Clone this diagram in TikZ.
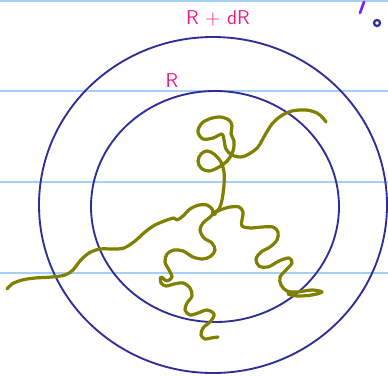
\documentclass[tikz,border=0pt]{standalone}
\usepackage{fontspec}
\definecolor{ruleblue}{HTML}{A6CFF7}
\definecolor{ringblue}{HTML}{2E2E96}
\definecolor{polyolive}{HTML}{808000}
\definecolor{labpink}{HTML}{EE1C7E}
\definecolor{penviolet}{HTML}{8A1CF0}
\begin{document}
\begin{tikzpicture}[x=0.75pt,y=-0.75pt,
  ruled/.style={draw=ruleblue,line width=1.5pt},
  ringline/.style={draw=ringblue,line width=1.4pt},
  polymer/.style={draw=polyolive,line width=2.4pt,line cap=round,line join=round},
  handlabel/.style={text=labpink,font=\sffamily\fontsize{15}{15}\selectfont,inner sep=0pt}]
\useasboundingbox (0,0) rectangle (388,375);
% ruled paper lines
\draw[ruled] (0,1) -- (388,1);
\draw[ruled] (0,91) -- (388,91);
\draw[ruled] (0,182) -- (388,182);
\draw[ruled] (0,273) -- (388,273);
% shells
\draw[ringline] (213,205) ellipse [x radius=174, y radius=168];
\draw[ringline] (215,206.5) ellipse [x radius=124, y radius=115.5];
% labels
\node[handlabel] (outerlab) at (218,18) {R + dR};
\node[handlabel] (innerlab) at (172,81) {R};
% pen marks top right
\coordinate (penA) at (360,13);
\coordinate (penB) at (364,2);
\draw[draw=penviolet,line width=2pt,line cap=round] (penA) -- (penB);
\draw[draw=ringblue,line width=1.7pt] (377,23) circle [radius=3];
% polymer chain
\coordinate (centre) at (214,213);
% tail to the left
\draw[polymer] plot[smooth, tension=0.55] coordinates {
 (7,289) (12,284) (22,280) (35,278) (52,277) (65,275) (73,270) (80,261) (89,253)
 (100,249) (113,249) (124,248) (135,241) (145,232) (155,225) (167,220) (174,218)
 (177,220) (183,216) (190,209) (199,205) (207,205) (212,209) (214,213)};
% loops upward and arc to the right
\draw[polymer] plot[smooth, tension=0.55] coordinates {
 (214,213) (219,209) (222,200) (224,185) (224,172) (221,162) (214,154) (207,151)
 (201,154) (198,161) (201,168) (209,171) (219,167) (228,160) (233,151) (234,141)
 (231,134) (232,126) (229,120) (220,117) (209,119) (201,124) (198,132) (203,139)
 (213,138) (222,134) (224,140) (226,149) (232,155) (241,157) (249,154) (258,147)
 (265,135) (272,124) (281,116) (292,111) (306,110) (317,113) (323,118) (326,122)};
% squiggle to the lower right
\draw[polymer] plot[smooth, tension=0.55] coordinates {
 (214,213) (220,210) (230,207) (239,207) (243,212) (242,220) (242,226) (250,228)
 (262,227) (273,227) (278,232) (277,240) (270,247) (261,252) (256,259) (259,266)
 (268,267) (279,261) (289,258) (292,263) (286,270) (280,277) (281,285) (287,291)
 (297,292) (312,290) (322,292) (312,295) (297,296) (288,294)};
% squiggle downward
\draw[polymer] plot[smooth, tension=0.55] coordinates {
 (214,213) (209,218) (203,223) (200,230) (204,238) (212,243) (215,250) (211,256)
 (203,259) (193,257) (183,251) (174,250) (167,254) (165,262) (169,270) (172,277)
 (167,281) (161,277) (161,283) (166,286) (174,284) (183,283) (190,288) (192,296)
 (187,303) (185,310) (190,315) (198,313) (207,310) (214,314) (211,321) (203,328)
 (201,335) (205,339) (211,338) (218,337)};
\fill[polyolive] (centre) circle [radius=3.2];
\end{tikzpicture}
\end{document}
